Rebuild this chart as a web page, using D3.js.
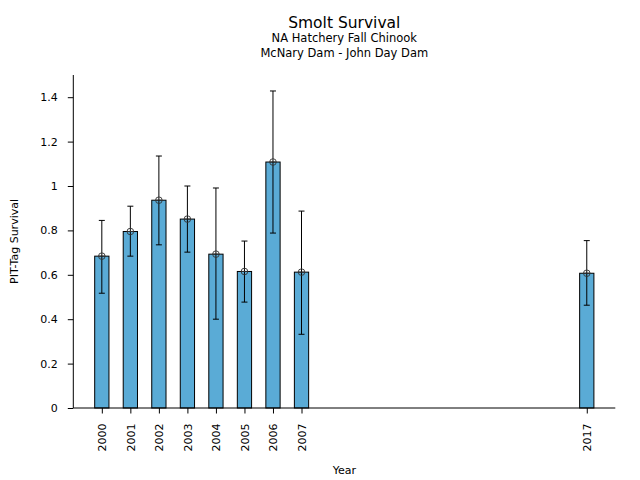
<html>
<script src='https://d3js.org/d3.v7.min.js'></script>
<style>
body {margin: 0;}
text {font-family: 'DejaVu Sans', sans-serif; fill: black;}
.axis path, .axis line {stroke: black;}
</style>
<body>
<svg width=640 height=480></svg>
<script>
// values
var years = [2000, 2001, 2002, 2003, 2004, 2005, 2006, 2007, 2017];
var survival = [0.684, 0.795, 0.936, 0.851, 0.693, 0.615, 1.108, 0.612, 0.607];
var errLow = [0.517, 0.684, 0.735, 0.702, 0.400, 0.477, 0.788, 0.332, 0.463];
var errHigh = [0.845, 0.909, 1.135, 1.000, 0.991, 0.752, 1.428, 0.887, 0.754];
var yTicks = [0, 0.2, 0.4, 0.6, 0.8, 1, 1.2, 1.4];

var data = years.map(function(y, i) {
    return {year: y, v: survival[i], lo: errLow[i], hi: errHigh[i]};
});

// note: "top" is window.top, so use other names
var plotL = 73.3, plotR = 615.3, plotT = 75, plotB = 408;
var svg = d3.select("svg");

var x = d3.scaleLinear().domain([1999, 2018]).range([plotL, plotR]);
var y = d3.scaleLinear().domain([0, 1.5]).range([plotB, plotT]);
var barW = x(2000.25) - x(2000);

// bars
svg.append("g").selectAll("rect")
    .data(data).enter()
    .append("rect")
    .attr("x", function(d) { return x(d.year) - barW; })
    .attr("y", function(d) { return y(d.v); })
    .attr("width", barW * 2)
    .attr("height", function(d) { return y(0) - y(d.v); })
    .attr("fill", "#5aabd6")
    .attr("stroke", "black")
    .attr("stroke-width", 1);

// error bars
var eb = svg.append("g").selectAll("g").data(data).enter().append("g");
eb.append("line")
    .attr("x1", function(d) { return x(d.year); })
    .attr("x2", function(d) { return x(d.year); })
    .attr("y1", function(d) { return y(d.lo); })
    .attr("y2", function(d) { return y(d.hi); })
    .attr("stroke", "black").attr("stroke-width", 1);
eb.selectAll(".cap")
    .data(function(d) { return [[d.year, d.lo], [d.year, d.hi]]; })
    .enter().append("line")
    .attr("x1", function(d) { return x(d[0]) - 3; })
    .attr("x2", function(d) { return x(d[0]) + 3; })
    .attr("y1", function(d) { return y(d[1]); })
    .attr("y2", function(d) { return y(d[1]); })
    .attr("stroke", "black").attr("stroke-width", 1);
eb.append("circle")
    .attr("cx", function(d) { return x(d.year); })
    .attr("cy", function(d) { return y(d.v); })
    .attr("r", 3.3)
    .attr("fill", "none")
    .attr("stroke", "#333").attr("stroke-width", 0.9);
eb.append("line")
    .attr("x1", function(d) { return x(d.year) - 3.3; })
    .attr("x2", function(d) { return x(d.year) + 3.3; })
    .attr("y1", function(d) { return y(d.v); })
    .attr("y2", function(d) { return y(d.v); })
    .attr("stroke", "#333").attr("stroke-width", 0.9);

// axes
var yAxis = svg.append("g").attr("class", "axis")
    .attr("transform", "translate(" + plotL + ",0)")
    .call(d3.axisLeft(y).tickValues(yTicks).tickSize(5.5).tickPadding(10)
        .tickFormat(function(d) { return d3.format("~g")(d); }));
yAxis.select(".domain").attr("d", "M0," + plotT + "V" + plotB);
yAxis.selectAll("text").attr("font-size", 11).attr("font-family", "DejaVu Sans");

var xAxis = svg.append("g").attr("class", "axis")
    .attr("transform", "translate(0," + plotB + ")")
    .call(d3.axisBottom(x).tickValues(years).tickSize(5.5)
        .tickFormat(d3.format("d")));
xAxis.select(".domain").attr("d", "M" + plotL + ",0H" + plotR);
xAxis.selectAll("text")
    .attr("font-size", 11).attr("font-family", "DejaVu Sans")
    .attr("transform", "rotate(-90)")
    .attr("text-anchor", "end")
    .attr("x", -15.5).attr("y", 0).attr("dy", "0.35em");

// titles
var cx = (plotL + plotR) / 2;
svg.append("text").attr("x", cx).attr("y", 28).attr("text-anchor", "middle")
    .attr("font-size", 15.5).text("Smolt Survival");
svg.append("text").attr("x", cx).attr("y", 42).attr("text-anchor", "middle")
    .attr("font-size", 11.5).text("NA Hatchery Fall Chinook");
svg.append("text").attr("x", cx).attr("y", 57).attr("text-anchor", "middle")
    .attr("font-size", 11.5).text("McNary Dam - John Day Dam");
svg.append("text").attr("x", cx).attr("y", 474).attr("text-anchor", "middle")
    .attr("font-size", 11).text("Year");
svg.append("text")
    .attr("transform", "translate(18," + ((plotT + plotB) / 2) + ") rotate(-90)")
    .attr("text-anchor", "middle")
    .attr("font-size", 11).text("PIT-Tag Survival");
</script>
</body>
</html>
